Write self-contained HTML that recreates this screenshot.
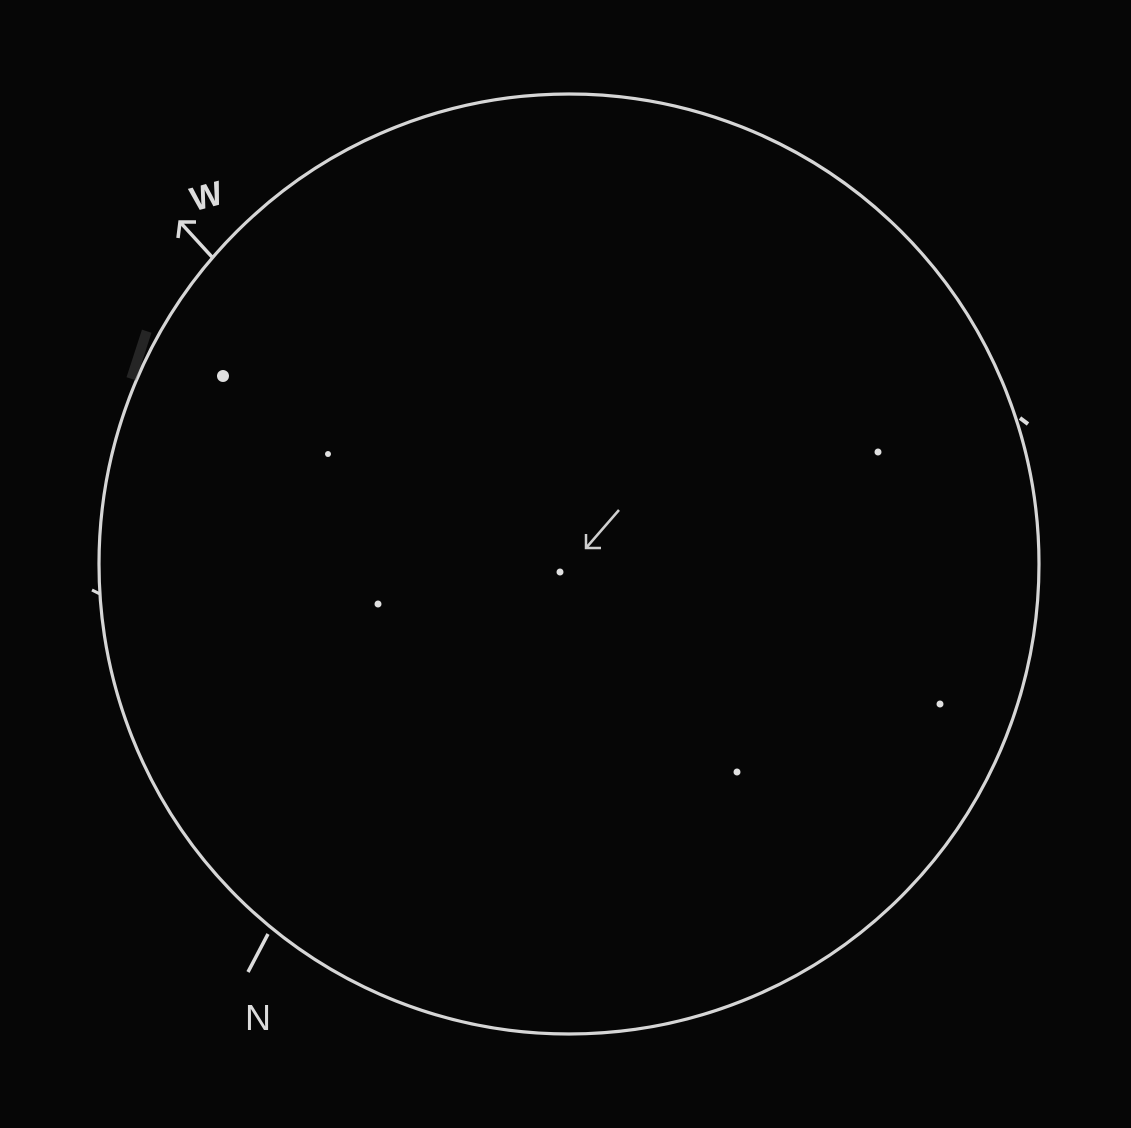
<!DOCTYPE html>
<html><head><meta charset="utf-8"><style>
html,body{margin:0;padding:0;background:#060606;}
svg{display:block;}
text{font-family:"Liberation Sans",sans-serif;fill:#dcdcdc;}
</style></head><body>
<svg width="1131" height="1128" viewBox="0 0 1131 1128">
<rect width="1131" height="1128" fill="#060606"/>
<circle cx="569" cy="564" r="470" fill="none" stroke="#d6d6d6" stroke-width="3.2"/>
<rect x="134" y="330" width="10" height="50" fill="#555" opacity="0.4" transform="rotate(18 139 355)"/>
<line x1="1020" y1="418" x2="1028" y2="424" stroke="#ddd" stroke-width="4"/>
<line x1="92" y1="590" x2="100" y2="594" stroke="#ddd" stroke-width="3"/>
<g id="spots"></g>
<g stroke="#cfcfcf" stroke-width="2.5" fill="none">
<line x1="619" y1="510" x2="586" y2="548"/>
<polyline points="586,534 586,548 601,548"/>
</g>
<g stroke="#dcdcdc" stroke-width="3.5" fill="none">
<line x1="212" y1="257" x2="180" y2="222"/>
<polyline points="178,238 180,222 196,222"/>
</g>
<text x="190" y="208" font-size="34" font-weight="bold" transform="rotate(-15 205 195)">W</text>
<line x1="268" y1="934" x2="248" y2="972" stroke="#dcdcdc" stroke-width="3.5"/>
<text x="245" y="1030" font-size="36">N</text>
</svg>
<script>
const spotX=[223,328,878,560,378,940,737];
const spotY=[376,454,452,572,604,704,772];
const spotR=[6,3,3.5,3.5,3.5,3.5,3.5];
const g=document.getElementById('spots');
for(let i=0;i<spotX.length;i++){
 const c=document.createElementNS('http://www.w3.org/2000/svg','circle');
 c.setAttribute('cx',spotX[i]);c.setAttribute('cy',spotY[i]);c.setAttribute('r',spotR[i]);
 c.setAttribute('fill','#e0e0e0');
 
 
 g.appendChild(c);
}
</script>
</body></html>
